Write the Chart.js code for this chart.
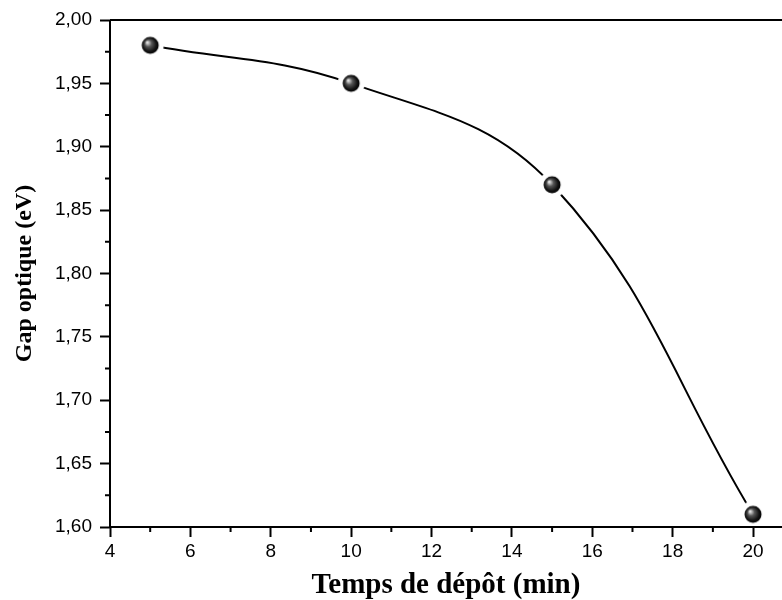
<!DOCTYPE html>
<html>
<head>
<meta charset="utf-8">
<script src="https://cdn.jsdelivr.net/npm/chart.js@4"></script>
<style>
  body { margin: 0; background: #fff; }
  #canvas { display: block; }
</style>
</head>
<body>
<canvas id="canvas" width="782" height="600"></canvas>
<script>
//données
var temps = [5, 10, 15, 20];
var gap = [1.98, 1.95, 1.87, 1.61];

var xTicks = [4, 6, 8, 10, 12, 14, 16, 18, 20];
var xMinor = [5, 7, 9, 11, 13, 15, 17, 19];
var yTicks = [1.60, 1.65, 1.70, 1.75, 1.80, 1.85, 1.90, 1.95, 2.00];
var yMinor = [1.625, 1.675, 1.725, 1.775, 1.825, 1.875, 1.925, 1.975];

var xTitle = 'Temps de dépôt (min)';
var yTitle = 'Gap optique (eV)';

//bille 3D avec un anneau blanc (coupe la courbe près des points)
function makeBall() {
    var c = document.createElement('canvas');
    c.width = 30;
    c.height = 30;
    var g = c.getContext('2d');
    g.fillStyle = '#fff';
    g.beginPath();
    g.arc(15, 15, 13.5, 0, Math.PI * 2);
    g.fill();
    var grad = g.createRadialGradient(12, 12, 0.5, 15, 15, 9);
    grad.addColorStop(0, '#e8e8e8');
    grad.addColorStop(0.35, '#555');
    grad.addColorStop(0.75, '#111');
    grad.addColorStop(1, '#000');
    g.fillStyle = grad;
    g.beginPath();
    g.arc(15, 15, 8.5, 0, Math.PI * 2);
    g.fill();
    return c;
}

//axes + petites graduations
var axesPlugin = {
    id: 'axes',
    afterDraw: function(chart) {
        var ctx = chart.ctx;
        var a = chart.chartArea;
        var xs = chart.scales.x;
        var ys = chart.scales.y;
        ctx.save();
        ctx.strokeStyle = '#000';
        ctx.lineWidth = 2;
        ctx.beginPath();
        ctx.moveTo(a.left, a.top);
        ctx.lineTo(a.right, a.top);
        ctx.moveTo(a.left, a.top);
        ctx.lineTo(a.left, a.bottom);
        ctx.lineTo(a.right, a.bottom);
        xMinor.forEach(function(v) {
            var px = xs.getPixelForValue(v);
            ctx.moveTo(px, a.bottom);
            ctx.lineTo(px, a.bottom + 5);
        });
        yMinor.forEach(function(v) {
            var py = ys.getPixelForValue(v);
            ctx.moveTo(a.left, py);
            ctx.lineTo(a.left - 5, py);
        });
        ctx.stroke();
        ctx.restore();
    }
};

var ctx = document.getElementById('canvas').getContext('2d');

new Chart(ctx, {
    type: 'line',
    data: {
        labels: temps,
        datasets: [{
            data: temps.map(function(t, i) { return {x: t, y: gap[i]}; }),
            borderColor: '#000',
            borderWidth: 2,
            tension: 0.4,
            pointStyle: makeBall(),
            pointRadius: 10,
            fill: false
        }]
    },
    options: {
        responsive: false,
        animation: false,
        events: [],
        layout: {
            autoPadding: false,
            padding: { top: 20, right: 0, bottom: 0, left: 0 }
        },
        plugins: {
            legend: { display: false },
            tooltip: { enabled: false }
        },
        scales: {
            x: {
                type: 'linear',
                min: 4,
                max: 20.72,
                afterFit: function(s) {
                    s.height = 73;
                    s.paddingLeft = 0;
                    s.paddingRight = 0;
                },
                afterBuildTicks: function(s) {
                    s.ticks = xTicks.map(function(v) { return {value: v}; });
                },
                border: { display: false },
                grid: {
                    drawOnChartArea: false,
                    tickLength: 10,
                    tickWidth: 2,
                    tickColor: '#000'
                },
                ticks: {
                    color: '#000',
                    padding: 3,
                    maxRotation: 0,
                    font: { family: "'Liberation Sans', Arial, sans-serif", size: 19 }
                },
                title: {
                    display: true,
                    text: xTitle,
                    color: '#000',
                    padding: 0,
                    font: { family: "'Liberation Serif', 'Times New Roman', serif", size: 29, weight: 'bold', lineHeight: 1 }
                }
            },
            y: {
                min: 1.6,
                max: 2.0,
                afterFit: function(s) {
                    s.width = 110;
                    s.paddingTop = 0;
                    s.paddingBottom = 0;
                },
                afterBuildTicks: function(s) {
                    s.ticks = yTicks.map(function(v) { return {value: v}; });
                },
                border: { display: false },
                grid: {
                    drawOnChartArea: false,
                    tickLength: 10,
                    tickWidth: 2,
                    tickColor: '#000'
                },
                ticks: {
                    color: '#000',
                    padding: 8,
                    font: { family: "'Liberation Sans', Arial, sans-serif", size: 19 },
                    callback: function(v) { return v.toFixed(2).replace('.', ','); }
                },
                title: {
                    display: true,
                    text: yTitle,
                    color: '#000',
                    padding: { top: 10, bottom: 0 },
                    font: { family: "'Liberation Serif', 'Times New Roman', serif", size: 24, weight: 'bold' }
                }
            }
        }
    },
    plugins: [axesPlugin]
});
</script>
</body>
</html>
